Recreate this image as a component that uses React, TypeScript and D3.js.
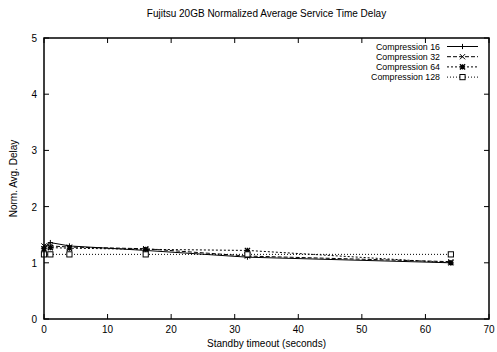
import * as d3 from "d3";

const timeouts = [0, 1, 4, 16, 32, 64];
const comp16 = [1.28, 1.36, 1.3, 1.22, 1.1, 1.0];
const comp32 = [1.3, 1.3, 1.28, 1.25, 1.12, 1.02];
const comp64 = [1.25, 1.27, 1.26, 1.24, 1.22, 1.0];
const comp128 = [1.15, 1.15, 1.15, 1.15, 1.15, 1.15];
const seriesNames = ["Compression 16", "Compression 32", "Compression 64", "Compression 128"];
const xTickValues = [0, 10, 20, 30, 40, 50, 60, 70];
const yTickValues = [0, 1, 2, 3, 4, 5];

const width = 497;
const height = 352;
const marginLeft = 44;
const marginRight = 8;
const marginTop = 38;
const marginBottom = 33;

const dashes = [null, "4,2", "2,2", "1,2"];
const font = "Liberation Sans, Arial, sans-serif";

function Marker({ kind, x, y }) {
    const s = 2.6;
    if (kind === 0) {
        return <path d={`M${x - s},${y}H${x + s}M${x},${y - s}V${y + s}`} stroke="#000" strokeWidth={1} />;
    }
    if (kind === 1) {
        return <path d={`M${x - s},${y - s}L${x + s},${y + s}M${x - s},${y + s}L${x + s},${y - s}`} stroke="#000" strokeWidth={1} />;
    }
    if (kind === 2) {
        return (
            <path
                d={`M${x - s},${y}H${x + s}M${x},${y - s}V${y + s}M${x - s},${y - s}L${x + s},${y + s}M${x - s},${y + s}L${x + s},${y - s}`}
                stroke="#000"
                strokeWidth={1.3}
            />
        );
    }
    return <rect x={x - s} y={y - s} width={2 * s} height={2 * s} fill="#fff" stroke="#000" strokeWidth={1} />;
}

export default function App() {
    const x = d3.scaleLinear([0, 70], [marginLeft, width - marginRight]);
    const y = d3.scaleLinear([0, 5], [height - marginBottom, marginTop]);
    const line = d3.line((d, i) => x(timeouts[i]), (d) => y(d));
    const series = [comp16, comp32, comp64, comp128];
    const x0 = x(0), x1 = x(70), y0 = y(0), y1 = y(5);

    return (
        <div style={{ position: "fixed", left: 0, top: 0 }}>
            <svg width={width} height={height} style={{ display: "block", background: "#fff" }} fontFamily={font}>
                <text x={(x0 + x1) / 2} y={17} textAnchor="middle" fontSize={10}>
                    Fujitsu 20GB Normalized Average Service Time Delay
                </text>

                {/* ticks, mirrored on all sides */}
                {xTickValues.map((t) => (
                    <g key={"x" + t}>
                        <line x1={x(t)} x2={x(t)} y1={y0} y2={y0 - 5} stroke="#000" />
                        <line x1={x(t)} x2={x(t)} y1={y1} y2={y1 + 5} stroke="#000" />
                        <text x={x(t)} y={y0 + 14} textAnchor="middle" fontSize={10}>{t}</text>
                    </g>
                ))}
                {yTickValues.map((t) => (
                    <g key={"y" + t}>
                        <line x1={x0} x2={x0 + 5} y1={y(t)} y2={y(t)} stroke="#000" />
                        <line x1={x1} x2={x1 - 5} y1={y(t)} y2={y(t)} stroke="#000" />
                        <text x={x0 - 7} y={y(t) + 4} textAnchor="end" fontSize={10}>{t}</text>
                    </g>
                ))}

                <text x={(x0 + x1) / 2} y={height - 5} textAnchor="middle" fontSize={10}>
                    Standby timeout (seconds)
                </text>
                <text
                    transform={`translate(${17},${(y0 + y1) / 2}) rotate(-90)`}
                    textAnchor="middle"
                    fontSize={10}
                >
                    Norm. Avg. Delay
                </text>

                {/* series */}
                {series.map((vals, k) => (
                    <g key={"s" + k}>
                        <path d={line(vals)} fill="none" stroke="#000" strokeWidth={1} strokeDasharray={dashes[k] ?? undefined} />
                        {vals.map((v, i) => (
                            <Marker key={i} kind={k} x={x(timeouts[i])} y={y(v)} />
                        ))}
                    </g>
                ))}

                {/* legend */}
                {seriesNames.map((name, k) => {
                    const ly = 46.5 + k * 10.2;
                    return (
                        <g key={"l" + k}>
                            <text x={440} y={ly + 3.2} textAnchor="end" fontSize={8.8}>{name}</text>
                            <line x1={447} x2={478} y1={ly} y2={ly} stroke="#000" strokeDasharray={dashes[k] ?? undefined} />
                            <Marker kind={k} x={462.5} y={ly} />
                        </g>
                    );
                })}

                <rect x={x0} y={y1} width={x1 - x0} height={y0 - y1} fill="none" stroke="#000" strokeWidth={1.5} />
            </svg>
        </div>
    );
}
